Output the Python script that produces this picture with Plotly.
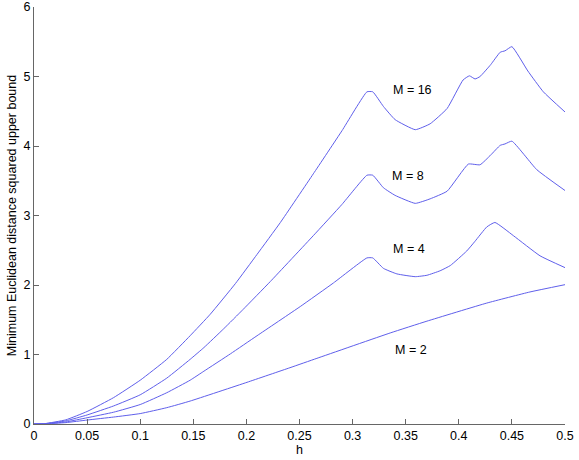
import plotly.graph_objects as go

# M = 16
x16 = [0, 0.01, 0.03, 0.05, 0.075, 0.1, 0.125, 0.147, 0.166, 0.1896, 0.21, 0.232, 0.263, 0.29,
       0.3135, 0.319, 0.329, 0.34, 0.359, 0.373, 0.389, 0.404, 0.41, 0.4153, 0.42, 0.43, 0.439, 0.4435,
       0.45, 0.465, 0.4796, 0.5]
y16 = [0, 0.005, 0.06, 0.18, 0.38, 0.63, 0.93, 1.27, 1.58, 2.02, 2.44, 2.90, 3.60, 4.22,
       4.78, 4.78, 4.57, 4.38, 4.235, 4.32, 4.54, 4.95, 5.01, 4.965, 5.0, 5.17, 5.35, 5.37,
       5.43, 5.08, 4.78, 4.49]

# M = 8
x8 = [0, 0.01, 0.03, 0.05, 0.075, 0.1, 0.125, 0.147, 0.16, 0.1786, 0.197, 0.2225, 0.263, 0.29,
      0.3135, 0.319, 0.329, 0.34, 0.359, 0.373, 0.389, 0.409, 0.42, 0.43, 0.439, 0.4435, 0.45,
      0.4734, 0.5]
y8 = [0, 0.004, 0.045, 0.13, 0.26, 0.42, 0.66, 0.93, 1.10, 1.37, 1.65, 2.05, 2.71, 3.16,
      3.58, 3.58, 3.40, 3.29, 3.175, 3.24, 3.35, 3.74, 3.73, 3.87, 4.01, 4.03, 4.07,
      3.66, 3.36]

# M = 4
x4 = [0, 0.01, 0.03, 0.05, 0.075, 0.1, 0.125, 0.147, 0.16, 0.185, 0.21, 0.2507, 0.282, 0.3135, 0.319,
      0.329, 0.3417, 0.359, 0.37, 0.3824, 0.392, 0.4075, 0.4153, 0.4263, 0.434, 0.4514, 0.4765, 0.5]
y4 = [0, 0.003, 0.03, 0.09, 0.17, 0.28, 0.45, 0.63, 0.76, 1.01, 1.27, 1.69, 2.03, 2.39, 2.39,
      2.24, 2.16, 2.12, 2.14, 2.205, 2.28, 2.49, 2.63, 2.835, 2.90, 2.71, 2.42, 2.25]

# M = 2
x2 = [0, 0.01, 0.03, 0.05, 0.075, 0.1, 0.125, 0.147, 0.2006, 0.241, 0.2664, 0.3354, 0.37, 0.4263,
      0.467, 0.5]
y2 = [0, 0.002, 0.02, 0.057, 0.1, 0.15, 0.235, 0.33, 0.60, 0.81, 0.945, 1.31, 1.48, 1.74,
      1.90, 2.005]

labels = ["M = 16", "M = 8", "M = 4", "M = 2"]
label_x = [0.356, 0.352, 0.353, 0.355]
label_y = [4.80, 3.57, 2.52, 1.06]

xticks = [0, 0.05, 0.1, 0.15, 0.2, 0.25, 0.3, 0.35, 0.4, 0.45, 0.5]
xticktext = ["0", "0.05", "0.1", "0.15", "0.2", "0.25", "0.3", "0.35", "0.4", "0.45", "0.5"]
yticks = [0, 1, 2, 3, 4, 5, 6]

FONT = "Liberation Sans, Arial, sans-serif"
LINE = "rgb(95,95,235)"

fig = go.Figure()
for xs, ys in [(x16, y16), (x8, y8), (x4, y4), (x2, y2)]:
    fig.add_trace(go.Scatter(x=xs, y=ys, mode="lines",
                             line=dict(color=LINE, width=1, shape="spline", smoothing=0.4),
                             showlegend=False, hoverinfo="skip", cliponaxis=False))

for t, lx, ly in zip(labels, label_x, label_y):
    fig.add_annotation(x=lx, y=ly, text=t, showarrow=False,
                       font=dict(family=FONT, size=12.5, color="black"))

fig.update_layout(
    width=579, height=460,
    margin=dict(l=34, r=14, t=7, b=36, autoexpand=False),
    paper_bgcolor="white", plot_bgcolor="white",
    font=dict(family=FONT, size=12.5, color="black"),
    xaxis=dict(range=[0, 0.5], tickvals=xticks, ticktext=xticktext,
               ticks="inside", ticklen=5, tickcolor="#666", showline=True,
               linecolor="#666", linewidth=1, showgrid=False, zeroline=False,
               title=dict(text="h", font=dict(size=12.5), standoff=0),
               tickfont=dict(size=12.5), ticklabeloverflow="allow", automargin=False),
    yaxis=dict(range=[0, 6.0005], tickvals=yticks,
               ticks="inside", ticklen=5, tickcolor="#666", showline=True,
               linecolor="#666", linewidth=1, showgrid=False, zeroline=False,
               title=dict(text="Minimum Euclidean distance squared upper bound",
                          font=dict(size=12.5), standoff=4),
               tickfont=dict(size=12.5), ticklabeloverflow="allow", automargin=False),
)

fig.write_html("out.html")
